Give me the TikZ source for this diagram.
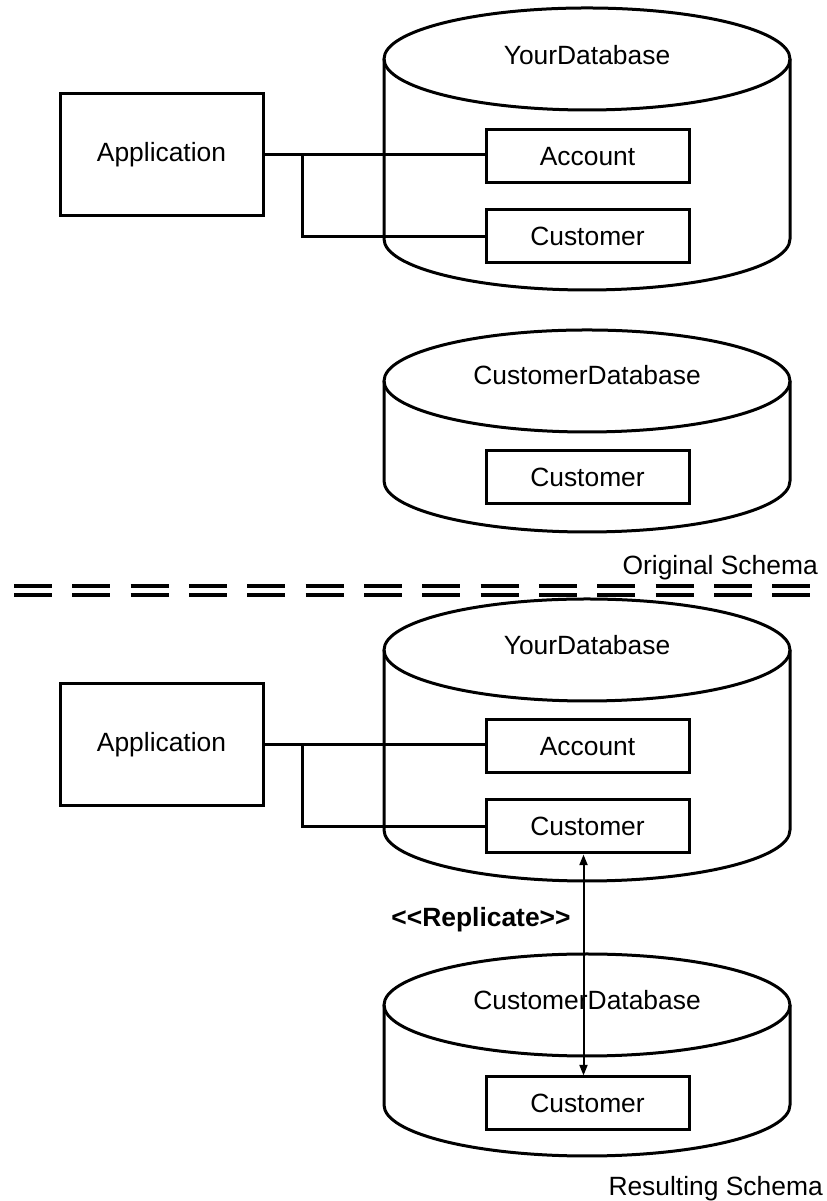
\documentclass[tikz,border=0pt]{standalone}
\usepackage{fontspec}
\setmainfont{Liberation Sans}
\usetikzlibrary{arrows.meta}
\newcommand\lblfont{\fontsize{19.8pt}{22pt}\selectfont}
\tikzset{
  lw/.style={line width=2.25pt},
  dbbox/.style={draw, lw, fill=white, minimum width=152.25pt, minimum height=39.75pt, inner sep=0pt, font=\lblfont},
  appbox/.style={dbbox, minimum height=91.5pt},
  lbl/.style={font=\lblfont, inner sep=0pt},
  wire/.style={lw},
  repl/.style={line width=1.5pt, {Triangle[length=8pt,width=6pt]}-{Triangle[length=8pt,width=6pt]}},
  sepline/.style={line width=3pt, dash pattern=on 28.5pt off 15.25pt},
}
% cylinder: centre x, top ellipse centre y, bottom ellipse centre y
\newcommand\dbcyl[3]{%
  \draw[lw] (#1-203,#2) -- (#1-203,#3) arc[start angle=180, end angle=360, x radius=152.25pt, y radius=38.25pt] -- (#1+203,#2);
  \draw[lw] (#1,#2) ellipse [x radius=152.25pt, y radius=38.25pt];
}
\begin{document}
\begin{tikzpicture}[x=0.75pt, y=0.75pt]
  \useasboundingbox (0,0) rectangle (826,1201);

  % ---------- Original schema ----------
  \dbcyl{587}{1142}{962}
  \node[lbl] (ydb1) at (587,1146) {YourDatabase};
  \node[appbox] (app1) at (161.5,1046) {Application};
  \node[dbbox] (acc1) at (587.5,1044.5) {Account};
  \node[dbbox] (cus1) at (587.5,964.5) {Customer};
  \draw[wire] (app1.east) -- (app1.east -| acc1.west);
  \draw[wire] (app1.east) -- ++(38,0) |- (cus1.west);

  \dbcyl{587}{820}{720}
  \node[lbl] (cdb1) at (587,826) {CustomerDatabase};
  \node[dbbox] (cus2) at (587.5,724) {Customer};

  \node[lbl, anchor=east] (orig) at (818,633) {Original Schema};

  % ---------- separator ----------
  \draw[sepline] (14,615) -- (810,615);
  \draw[sepline] (14,606) -- (810,606);

  % ---------- Resulting schema ----------
  \dbcyl{587}{551}{371}
  \node[lbl] (ydb2) at (587,556) {YourDatabase};
  \node[appbox] (app2) at (161.5,456) {Application};
  \node[dbbox] (acc2) at (587.5,454.5) {Account};
  \node[dbbox] (cus3) at (587.5,374.5) {Customer};
  \draw[wire] (app2.east) -- (app2.east -| acc2.west);
  \draw[wire] (app2.east) -- ++(38,0) |- (cus3.west);

  \dbcyl{587}{196}{96}
  \node[lbl] (cdb2) at (587,201) {CustomerDatabase};
  \node[dbbox] (cus4) at (587.5,97.5) {Customer};

  \node[lbl, font=\lblfont\bfseries] (rep) at (481,281) {\mbox{<}\mbox{<}Replicate\mbox{>}\mbox{>}};
  \draw[repl] ([xshift=-3pt]cus3.south) -- ([xshift=-3pt]cus4.north);

  \node[lbl, anchor=east] (res) at (823,12) {Resulting Schema};
\end{tikzpicture}
\end{document}
